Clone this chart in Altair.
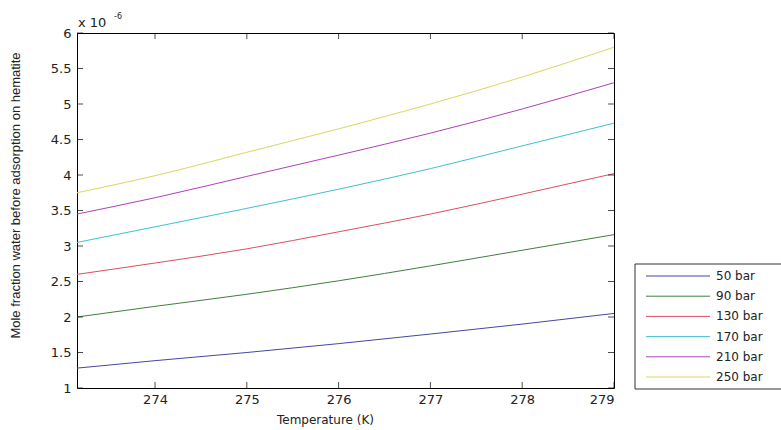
import altair as alt
import pandas as pd

temps = [273.15, 274, 275, 276, 277, 278, 279]
p50 = [1.28, 1.385, 1.50, 1.625, 1.76, 1.90, 2.05]
p90 = [2.00, 2.15, 2.32, 2.51, 2.72, 2.94, 3.16]
p130 = [2.60, 2.76, 2.96, 3.20, 3.45, 3.73, 4.02]
p170 = [3.05, 3.27, 3.53, 3.80, 4.09, 4.41, 4.73]
p210 = [3.45, 3.68, 3.98, 4.28, 4.59, 4.93, 5.30]
p250 = [3.75, 3.99, 4.32, 4.65, 5.00, 5.38, 5.80]

labels = ["50 bar", "90 bar", "130 bar", "170 bar", "210 bar", "250 bar"]
colors = ["#4646a0", "#3f7f3f", "#d9505f", "#40c0d0", "#b040b8", "#d8d860"]
series = [p50, p90, p130, p170, p210, p250]

x_ticks = [274, 275, 276, 277, 278, 279]
y_ticks = [1, 1.5, 2, 2.5, 3, 3.5, 4, 4.5, 5, 5.5, 6]

rows = []
for lab, vals in zip(labels, series):
    for t, v in zip(temps, vals):
        rows.append({"T": t, "v": v, "series": lab})
df = pd.DataFrame(rows)

W, H = 537, 355
FONT = "DejaVu Sans"

xs = alt.Scale(domain=[273.15, 279], nice=False, zero=False)
ys = alt.Scale(domain=[1, 6], nice=False, zero=False)
cs = alt.Scale(domain=labels, range=colors)

x_axis = alt.Axis(
    values=x_ticks, format="d", title="Temperature (K)", ticks=False, domain=False,
    grid=False, labelPadding=5, labelFontSize=13, labelFont=FONT, labelColor="#222",
    titleFont=FONT, titleFontSize=12, titleFontWeight="normal", titleColor="#222",
    titleX=248, titleY=31, titleBaseline="middle", titleAlign="center")
y_axis = alt.Axis(
    values=y_ticks, format="~g", ticks=False, domain=False, grid=False,
    title="Mole fraction water before adsorption on hematite",
    labelPadding=6, labelFontSize=13, labelFont=FONT, labelColor="#222",
    titleFont="Liberation Sans", titleFontSize=13, titleFontWeight="normal", titleColor="#222",
    titleAngle=270, titleX=-62, titleY=162, titleAlign="center", titleBaseline="middle")

lines = alt.Chart(df).mark_line(strokeWidth=1, interpolate="monotone").encode(
    x=alt.X("T:Q", scale=xs, axis=x_axis),
    y=alt.Y("v:Q", scale=ys, axis=y_axis),
    color=alt.Color("series:N", scale=cs, legend=None),
    detail="series:N",
)

xt = pd.DataFrame({"t": x_ticks})
yt = pd.DataFrame({"t": y_ticks})

xtick_b = alt.Chart(xt).mark_tick(size=6, thickness=1, color="black").encode(
    x=alt.X("t:Q", scale=xs, axis=x_axis), y=alt.value(H - 3))
xtick_t = alt.Chart(xt).mark_tick(size=6, thickness=1, color="black").encode(
    x=alt.X("t:Q", scale=xs, axis=x_axis), y=alt.value(3))
ytick_l = alt.Chart(yt).mark_tick(size=6, thickness=1, color="black").encode(
    y=alt.Y("t:Q", scale=ys, axis=y_axis), x=alt.value(3))
ytick_r = alt.Chart(yt).mark_tick(size=6, thickness=1, color="black").encode(
    y=alt.Y("t:Q", scale=ys, axis=y_axis), x=alt.value(W - 3))

exp_base = alt.Chart(pd.DataFrame({"a": [0]})).mark_text(
    text="x 10", align="left", baseline="alphabetic", font=FONT, fontSize=13, color="#222"
).encode(x=alt.value(1), y=alt.value(-6))
exp_sup = alt.Chart(pd.DataFrame({"a": [0]})).mark_text(
    text="-6", align="left", baseline="alphabetic", font=FONT, fontSize=8, color="#222"
).encode(x=alt.value(37), y=alt.value(-14))

main = alt.layer(lines, xtick_b, xtick_t, ytick_l, ytick_r, exp_base, exp_sup)

# legend (drawn manually, positions in pixel space)
ldf = pd.DataFrame({"series": labels, "row": list(range(len(labels)))})
px = alt.Scale(domain=[0, W], range=[0, W])
py = alt.Scale(domain=[0, H], range=[0, H])

lbox = alt.Chart(pd.DataFrame({"a": [0]})).mark_rect(
    fill="white", stroke="#333", strokeWidth=1
).transform_calculate(x1="558", x2="730", y1="231", y2="356").encode(
    x=alt.X("x1:Q", scale=px, axis=None), x2="x2:Q",
    y=alt.Y("y1:Q", scale=py, axis=None), y2="y2:Q")

lrule = alt.Chart(ldf).mark_rule(strokeWidth=1).transform_calculate(
    ly="243 + datum.row * 20.2", lx1="569", lx2="633").encode(
    x=alt.X("lx1:Q", scale=px, axis=None), x2="lx2:Q",
    y=alt.Y("ly:Q", scale=py, axis=None),
    color=alt.Color("series:N", scale=cs, legend=None))

ltext = alt.Chart(ldf).mark_text(
    align="left", baseline="middle", font=FONT, fontSize=12, color="#222"
).transform_calculate(ly="243 + datum.row * 20.2", lx="639").encode(
    x=alt.X("lx:Q", scale=px, axis=None),
    y=alt.Y("ly:Q", scale=py, axis=None),
    text="series:N")

legend = alt.layer(lbox, lrule, ltext)

chart = alt.layer(main, legend).resolve_scale(x="independent", y="independent").properties(
    width=W, height=H,
    autosize=alt.AutoSizeParams(type="none"),
    padding={"left": 77, "top": 33, "right": 781 - 77 - W, "bottom": 430 - 33 - H},
    background="white",
).configure_view(stroke="black", strokeWidth=1)

chart.save("out.html", embed_options={"renderer": "svg", "actions": False})
